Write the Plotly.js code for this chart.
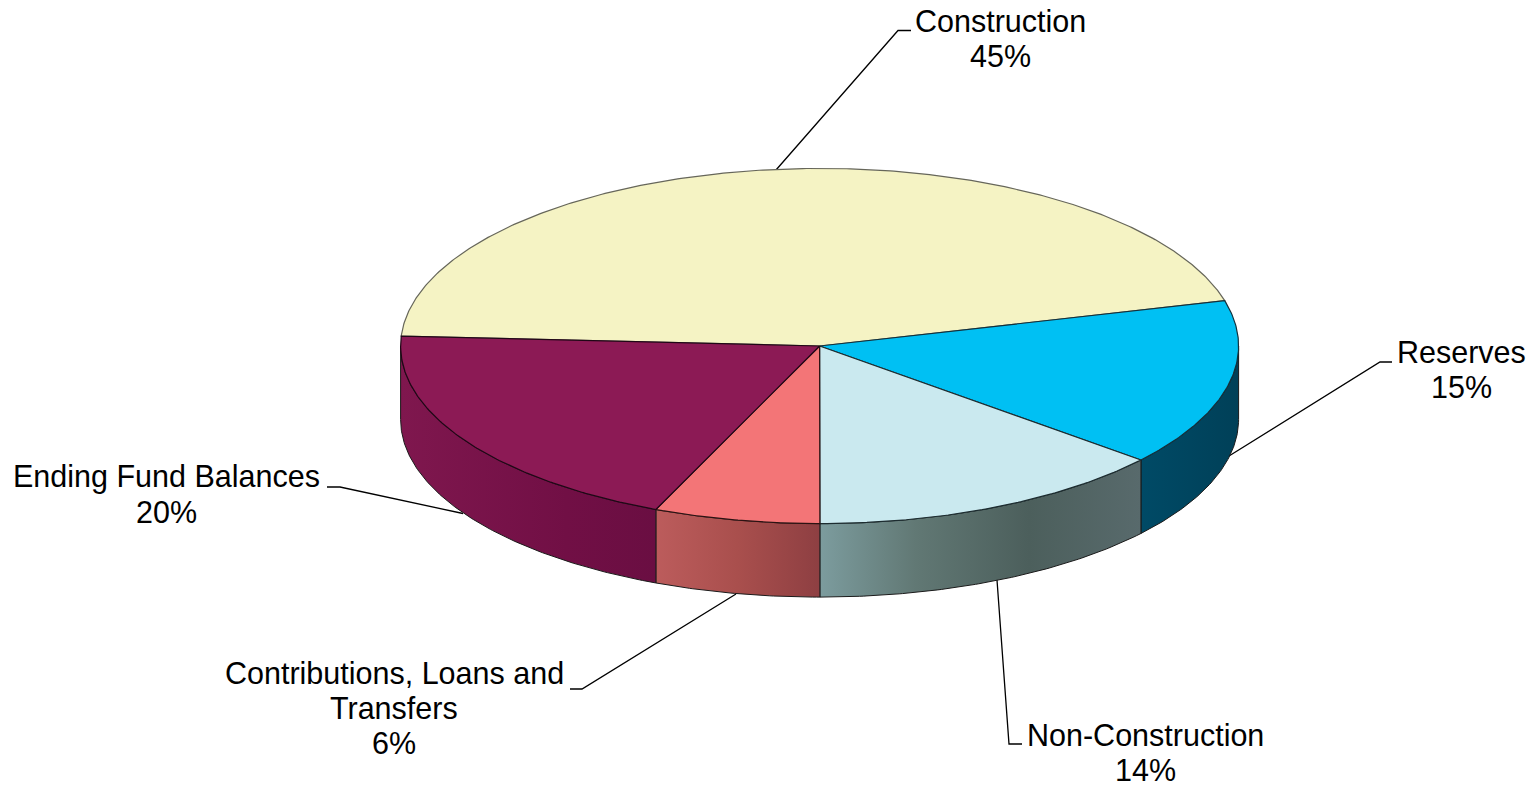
<!DOCTYPE html>
<html>
<head>
<meta charset="utf-8">
<script src="https://cdn.plot.ly/plotly-3.0.1.min.js"></script>
<style>html,body{margin:0;padding:0;background:#fff;overflow:hidden}#chart{width:1535px;height:786px}</style>
</head>
<body>
<div id="chart"></div>
<script>
// Data
const categories = ["Construction", "Reserves", "Non-Construction", "Contributions, Loans and Transfers", "Ending Fund Balances"];
const shares = [45.0, 15.2, 13.9, 6.4, 19.5];

// Styles
const topColors = ["#F5F3C4", "#00C0F3", "#CAE9EF", "#F37577", "#8C1A55"];
const topLines = ["#66665a", "#12303c", "#1c2c30", "#2c1212", "#200716"];
const sideGradients = [
  null,
  [[0, "#004A66"], [1, "#004058"]],
  [[0, "#7C9C9E"], [0.3, "#617874"], [0.65, "#4C5F5C"], [1, "#586A6C"]],
  [[0, "#BC5C5C"], [0.5, "#A94F4D"], [1, "#8E3F42"]],
  [[0, "#7F174E"], [0.65, "#710F45"], [1, "#6A0E42"]]
];
const labelLines = [["Construction"], ["Reserves"], ["Non-Construction"], ["Contributions, Loans and", "Transfers"], ["Ending Fund Balances"]];

// Layout of the 3-D disc and of the labels (pixel space of the hidden axes)
const disc = {cx: 819.6, cy: 346, rx: 419, ry: 177.6, depth: 73.5, startAngle: -86.8};
const labelBoxes = [
  {x: 1000, y: 20.7}, {x: 1461, y: 351.7}, {x: 1145, y: 734.7}, {x: 394, y: 672.7}, {x: 166, y: 476.7}
];
const lineGap = 35;
const leaders = [
  "M776,170 L898,30.5 L911,30.5",
  "M1229,456 L1380,362 L1392,362",
  "M997,580 L1009,744 L1022,744",
  "M736,594 L582,689 L570,689",
  "M463,513.5 L340,487 L327,487"
];

function px(deg) { return disc.cx + disc.rx * Math.sin(deg * Math.PI / 180); }
function py(deg) { return disc.cy - disc.ry * Math.cos(deg * Math.PI / 180); }
function arc(a, b) {
  const n = Math.max(2, Math.ceil(Math.abs(b - a) * 2));
  const out = [];
  for (let i = 0; i <= n; i++) out.push(a + (b - a) * i / n);
  return out;
}

const total = shares.reduce((s, v) => s + v, 0);
let running = disc.startAngle;
const spans = shares.map(v => {
  const a = running;
  running += v / total * 360;
  return [a, running];
});

const sideTraces = [];
spans.forEach(([a, b], i) => {
  const lo = Math.max(a, 90), hi = Math.min(b, 270);
  if (hi <= lo || !sideGradients[i]) return;
  const up = arc(lo, hi), down = arc(hi, lo);
  sideTraces.push({
    type: "scatter", mode: "lines", hoverinfo: "skip", fill: "toself",
    x: up.map(px).concat(down.map(px), [px(lo)]),
    y: up.map(py).concat(down.map(d => py(d) + disc.depth), [py(lo)]),
    line: {color: "#1a1a1a", width: 1},
    fillcolor: sideGradients[i][0][1],
    fillgradient: {type: "horizontal", colorscale: sideGradients[i]}
  });
});

const topTraces = spans.map(([a, b], i) => {
  const t = arc(a, b);
  return {
    type: "scatter", mode: "lines", name: categories[i], fill: "toself",
    text: categories[i] + ": " + Math.round(shares[i]) + "%", hoverinfo: "text",
    x: [disc.cx].concat(t.map(px), [disc.cx]),
    y: [disc.cy].concat(t.map(py), [disc.cy]),
    line: {color: topLines[i], width: 1.2},
    fillcolor: topColors[i]
  };
});

const annotations = [];
categories.forEach((c, i) => {
  const lines = labelLines[i].concat([Math.round(shares[i]) + "%"]);
  lines.forEach((text, k) => annotations.push({
    x: labelBoxes[i].x, y: labelBoxes[i].y + k * lineGap, xref: "x", yref: "y",
    text, showarrow: false, xanchor: "center", yanchor: "middle",
    font: {family: "Liberation Sans, Arial, sans-serif", size: 30.5, color: "#000"}
  }));
});

const layout = {
  width: 1535, height: 786,
  margin: {l: 0, r: 0, t: 0, b: 0, pad: 0},
  paper_bgcolor: "#fff", plot_bgcolor: "#fff", showlegend: false,
  xaxis: {range: [0, 1535], visible: false, fixedrange: true},
  yaxis: {range: [786, 0], visible: false, fixedrange: true},
  shapes: leaders.map(path => ({type: "path", path, xref: "x", yref: "y", layer: "below", line: {color: "#000", width: 1.3}})),
  annotations
};

Plotly.newPlot("chart", sideTraces.concat(topTraces), layout, {displayModeBar: false});
</script>
</body>
</html>
